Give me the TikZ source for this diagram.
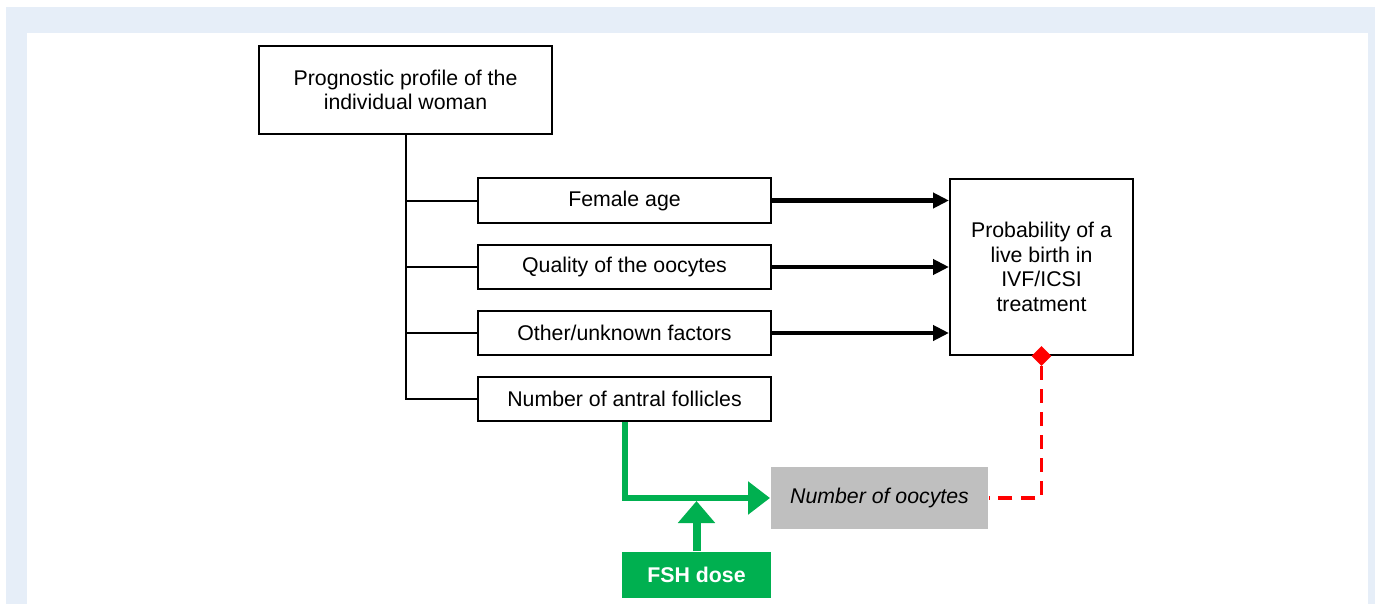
\documentclass[tikz,border=0pt]{standalone}
\usepackage{fontspec}
\setmainfont{Liberation Sans}
\usetikzlibrary{arrows.meta,shapes.geometric}
\definecolor{bgblue}{HTML}{E6EEF8}
\definecolor{fshgreen}{HTML}{00B050}
\definecolor{boxgray}{HTML}{BFBFBF}
\tikzset{
  box/.style={draw,line width=2pt,minimum width=293pt,minimum height=44pt,inner sep=0pt,font=\fontsize{21.3}{24}\selectfont},
  link/.style={line width=2pt},
  effect/.style={line width=4pt,-{Triangle[length=16pt,width=15pt]}},
}
\begin{document}
\begin{tikzpicture}[x=1pt,y=-1pt]
\useasboundingbox (0,0) rectangle (1375,604);
\fill[bgblue] (6,7) rectangle (1375,604);
\fill[white] (27,33) rectangle (1368,604);
% profile and its factors
\node[box,minimum height=88pt,align=center] (prof) at (405.5,90) {Prognostic profile of the\\individual woman};
\node[box] (age) at (624.5,200.5) {Female age};
\node[box] (qual) at (624.5,267) {Quality of the oocytes};
\node[box] (other) at (624.5,333) {Other/unknown factors};
\node[box] (antral) at (624.5,399) {Number of antral follicles};
\node[box,minimum width=183pt,minimum height=176pt,align=center,font=\fontsize{21.3}{24.5}\selectfont] (prob) at (1041.5,267) {Probability of a\\live birth in\\IVF/ICSI\\treatment};
\node[box,draw=none,fill=boxgray,minimum width=217pt,minimum height=62pt,font=\fontsize{21.3}{24}\selectfont\itshape] (oocytes) at (879.5,498) {Number of oocytes};
\node[box,draw=none,fill=fshgreen,text=white,minimum width=149pt,minimum height=46pt,font=\fontsize{21.3}{24}\selectfont\bfseries] (fsh) at (696.5,575) {FSH dose};
\draw[link] (prof.south) -- (antral.west -| prof.south) -- (antral.west);
\foreach \f in {age,qual,other}
{ \draw[link] (\f.west -| prof.south) -- (\f.west);
}
\foreach \f in {age,qual,other}
{ \draw[effect] (\f.east) -- (\f.east -| prob.west);
}
% oocytes
\node[diamond,fill=red,inner sep=0pt,minimum size=20pt] (dia) at (prob.south) {};
\draw[red,line width=3.2pt,dash pattern=on 14pt off 9pt] (dia) |- (oocytes.east);
\draw[fshgreen,line width=6pt,-{Triangle[length=22pt,width=32pt]}] (antral.south) |- (oocytes.west);
\coordinate (hit) at (fsh.north |- 0,501);
\draw[fshgreen,line width=8pt,-{Triangle[length=22pt,width=36pt]}] (fsh.north) -- (hit);
\end{tikzpicture}
\end{document}
